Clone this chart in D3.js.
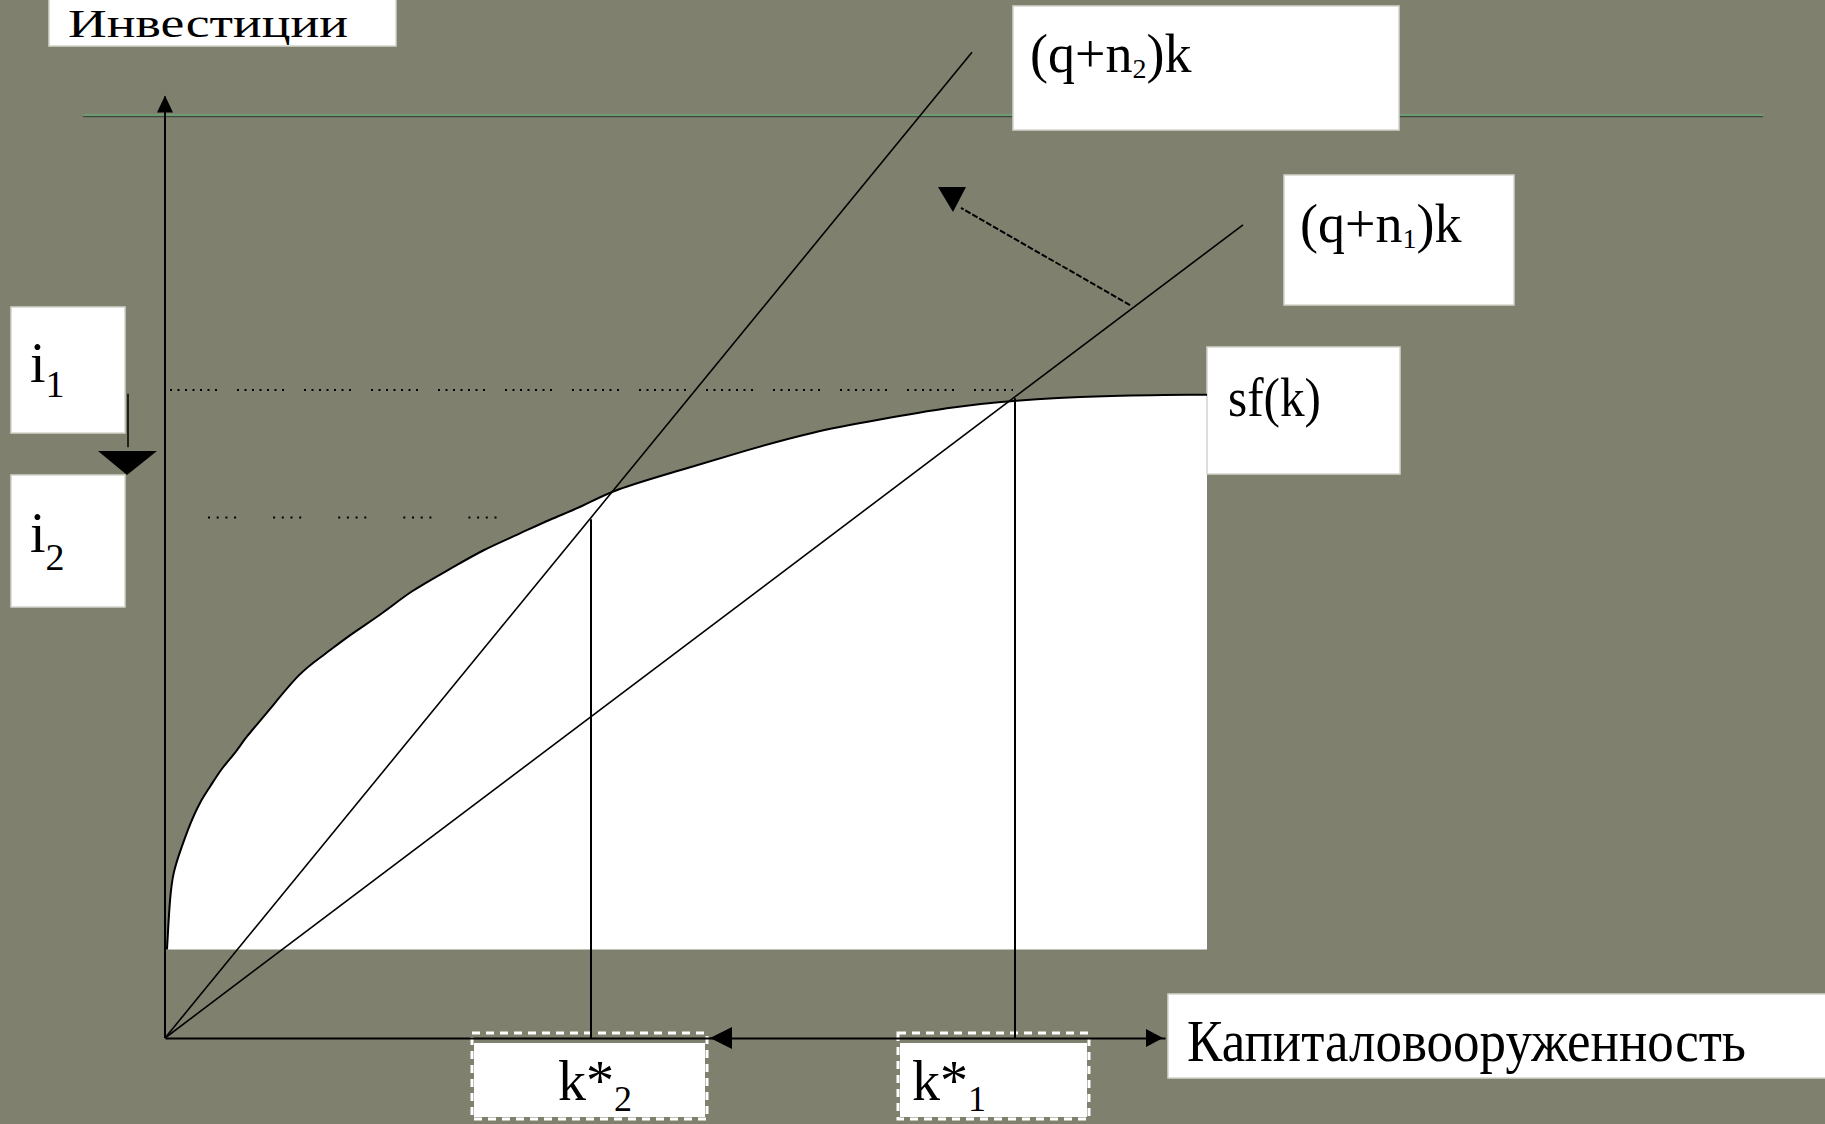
<!DOCTYPE html>
<html>
<head>
<meta charset="utf-8">
<title>Инвестиции и капиталовооруженность</title>
<script src="https://cdn.jsdelivr.net/npm/d3@7"></script>
<style>
  body { margin:0; background:#80806f; }
  svg { display:block; }
</style>
</head>
<body>
<svg id="chart"></svg>
<script>

// sf(k) curve (k, investment), both 0..100 units
var curveK = [0.2, 0.3, 0.5, 0.8, 1.7, 2.5, 3.5, 4.5, 5.7, 7.0, 8.0, 10.2, 13.5, 15.8, 18.5, 21.8, 24.5, 28.5, 31.8, 35.2, 38.5, 41.8, 44.8, 51.5, 58.2, 64.8, 71.5, 78.2, 84.8, 93.5, 104.2];
var curveI = [9.6, 11.6, 15.2, 18.0, 20.8, 23.2, 25.6, 27.2, 29.3, 30.8, 32.5, 35.2, 39.7, 41.4, 43.7, 46.0, 48.4, 50.8, 52.9, 54.5, 56.2, 57.6, 59.4, 61.5, 63.7, 65.7, 67.0, 68.3, 69.1, 69.6, 69.7];

// the two (q+n)k rays from the origin, end points
var rayLabels = ["2", "1"];
var rayEndK = [80.7, 107.8];
var rayEndI = [106.8, 88.1];

// steady states k*2 , k*1
var steadyLabels = ["2", "1"];
var steadyK = [42.6, 85.0];
var steadyI = [56.2, 69.3];

// investment levels i1 , i2 (dotted)
var levelLabels = ["1", "2"];
var levelI = [70.2, 56.4];
var levelFromK = [0.5, 4.3];
var levelToK = [84.8, 33.5];

var ceilingI = 100;       // green line
var fillBaseI = 9.6;      // bottom of the white area
var axisTopI = 102;
var xArrowK = 54.5;       // arrow on the k axis
var shiftFrom = [96.5, 79.4], shiftTo = [78.8, 90.8];   // arrow turning the ray

var W = 1825, H = 1124;
var svg = d3.select("#chart").attr("width", W).attr("height", H);

var x = d3.scaleLinear().domain([0, 100]).range([165, 1165]);
var y = d3.scaleLinear().domain([0, 100]).range([1038, 115]);

var serif = "'Liberation Serif', 'Times New Roman', serif";

svg.append("rect").attr("width", W).attr("height", H).attr("fill", "#80806f");

var pts = curveK.map(function(k, i) { return [k, curveI[i]]; });

// white area under sf(k)
var area = d3.area()
  .x(function(d) { return x(d[0]); })
  .y0(y(fillBaseI))
  .y1(function(d) { return y(d[1]); })
  .curve(d3.curveBasis);
svg.append("path").datum(pts).attr("d", area).attr("fill", "#fff");

// green line on top
svg.append("line")
  .attr("x1", x(-8.2)).attr("x2", x(159.8))
  .attr("y1", y(ceilingI) + 1.5).attr("y2", y(ceilingI) + 1.5)
  .attr("stroke", "#3f4a3f").attr("stroke-width", 1.5);
svg.append("line")
  .attr("x1", x(-8.2)).attr("x2", x(159.8))
  .attr("y1", y(ceilingI)).attr("y2", y(ceilingI))
  .attr("stroke", "#6aa878").attr("stroke-width", 1.5);

// label boxes
function box(x0, y0, x1, y1) {
  svg.append("rect")
    .attr("x", x0).attr("y", y0).attr("width", x1 - x0).attr("height", y1 - y0)
    .attr("fill", "#fff").attr("stroke", "#d4d4cc").attr("stroke-width", 1.5);
}
box(49, -4, 396, 46);
box(1013, 6, 1399, 130);
box(1284, 175, 1514, 305);
box(1207, 347, 1400, 474);
box(11, 307, 125, 433);
box(11, 475, 125, 607);
box(1168, 994, 1830, 1078);

// k* boxes with dashed white edges
[[472, 707], [898, 1089]].forEach(function(b) {
  svg.append("rect").attr("x", b[0] + 2).attr("y", 1043).attr("width", b[1] - b[0] - 4).attr("height", 74)
    .attr("fill", "#fff");
  svg.append("rect").attr("x", b[0]).attr("y", 1033).attr("width", b[1] - b[0]).attr("height", 86)
    .attr("fill", "none").attr("stroke", "#fff").attr("stroke-width", 3)
    .attr("stroke-dasharray", "8,6");
});

// axes
svg.append("g")
  .attr("transform", "translate(0," + y(0) + ")")
  .call(d3.axisBottom(x).tickValues([]).tickSizeOuter(0))
  .select(".domain").attr("stroke", "#000").attr("stroke-width", 2);
svg.append("line")
  .attr("x1", x(0)).attr("x2", x(0))
  .attr("y1", y(0)).attr("y2", y(axisTopI))
  .attr("stroke", "#000").attr("stroke-width", 2);

// arrow heads on axes
svg.append("path")
  .attr("d", "M" + x(0) + "," + (y(axisTopI) - 1) + " l-8,17 l16,0 z").attr("fill", "#000");
svg.append("path")
  .attr("d", "M" + (x(100) - 2) + "," + y(0) + " l-17,-9 l0,18 z").attr("fill", "#000");
svg.append("path")
  .attr("d", "M" + x(xArrowK) + "," + y(0) + " l22,-11 l0,22 z").attr("fill", "#000");

// dotted levels
var dashes = ["2,5.5,2,5.5,2,5.5,2,5.5,2,5.5,2,5.5,2,20", "2,6.7,2,6.7,2,6.7,2,37"];
levelI.forEach(function(v, i) {
  svg.append("line")
    .attr("x1", x(levelFromK[i])).attr("x2", x(levelToK[i]))
    .attr("y1", y(v)).attr("y2", y(v))
    .attr("stroke", "#000").attr("stroke-width", 2)
    .attr("stroke-dasharray", dashes[i]);
});

// rays (q+n)k
rayEndK.forEach(function(k, i) {
  svg.append("line")
    .attr("x1", x(0)).attr("y1", y(0))
    .attr("x2", x(k)).attr("y2", y(rayEndI[i]))
    .attr("stroke", "#000").attr("stroke-width", 1.6);
});

// sf(k)
var line = d3.line()
  .x(function(d) { return x(d[0]); })
  .y(function(d) { return y(d[1]); })
  .curve(d3.curveBasis);
svg.append("path").datum(pts).attr("d", line)
  .attr("fill", "none").attr("stroke", "#000").attr("stroke-width", 2);

// steady state verticals
steadyK.forEach(function(k, i) {
  svg.append("line")
    .attr("x1", x(k)).attr("x2", x(k))
    .attr("y1", y(0)).attr("y2", y(steadyI[i]))
    .attr("stroke", "#000").attr("stroke-width", 2);
});

// arrow: ray turns up
svg.append("line")
  .attr("x1", x(shiftFrom[0])).attr("y1", y(shiftFrom[1]))
  .attr("x2", x(shiftTo[0]) + 8).attr("y2", y(shiftTo[1]) + 8)
  .attr("stroke", "#000").attr("stroke-width", 2).attr("stroke-dasharray", "6,2");
svg.append("path")
  .attr("d", "M" + (x(shiftTo[0]) - 15) + "," + (y(shiftTo[1]) - 13) + " l28,0 l-13,25 z")
  .attr("fill", "#000");

// arrow i1 -> i2
svg.append("line").attr("x1", 128).attr("x2", 128).attr("y1", y(69.8)).attr("y2", y(64))
  .attr("stroke", "#000").attr("stroke-width", 1.5);
svg.append("path").attr("d", "M98," + y(63.6) + " l59,0 l-30,24 z").attr("fill", "#000");

// texts
function label(tx, ty, size, parts, len) {
  var t = svg.append("text").attr("x", tx).attr("y", ty)
    .attr("font-family", serif).attr("font-size", size).attr("fill", "#000");
  if (len) t.attr("textLength", len).attr("lengthAdjust", "spacingAndGlyphs");
  parts.forEach(function(p) {
    t.append("tspan").attr("font-size", p[1] || size).attr("dy", p[2] || 0).text(p[0]);
  });
  return t;
}

label(68, 37, 39, [["Инвестиции"]], 280);
label(1030, 72, 54, [["(q+n"], [rayLabels[0], 28, 6], [")k", 54, -6]]);
label(1300, 242, 54, [["(q+n"], [rayLabels[1], 28, 6], [")k", 54, -6]]);
label(1228, 416, 54, [["sf(k)"]], 93);
label(30, 382, 56, [["i"], [levelLabels[0], 38, 15]]);
label(30, 552, 56, [["i"], [levelLabels[1], 38, 18]]);
label(558, 1100, 56, [["k*"], [steadyLabels[0], 36, 11]]);
label(912, 1100, 56, [["k*"], [steadyLabels[1], 36, 11]]);
label(1187, 1061, 60, [["Капиталовооруженность"]], 559);

</script>
</body>
</html>
